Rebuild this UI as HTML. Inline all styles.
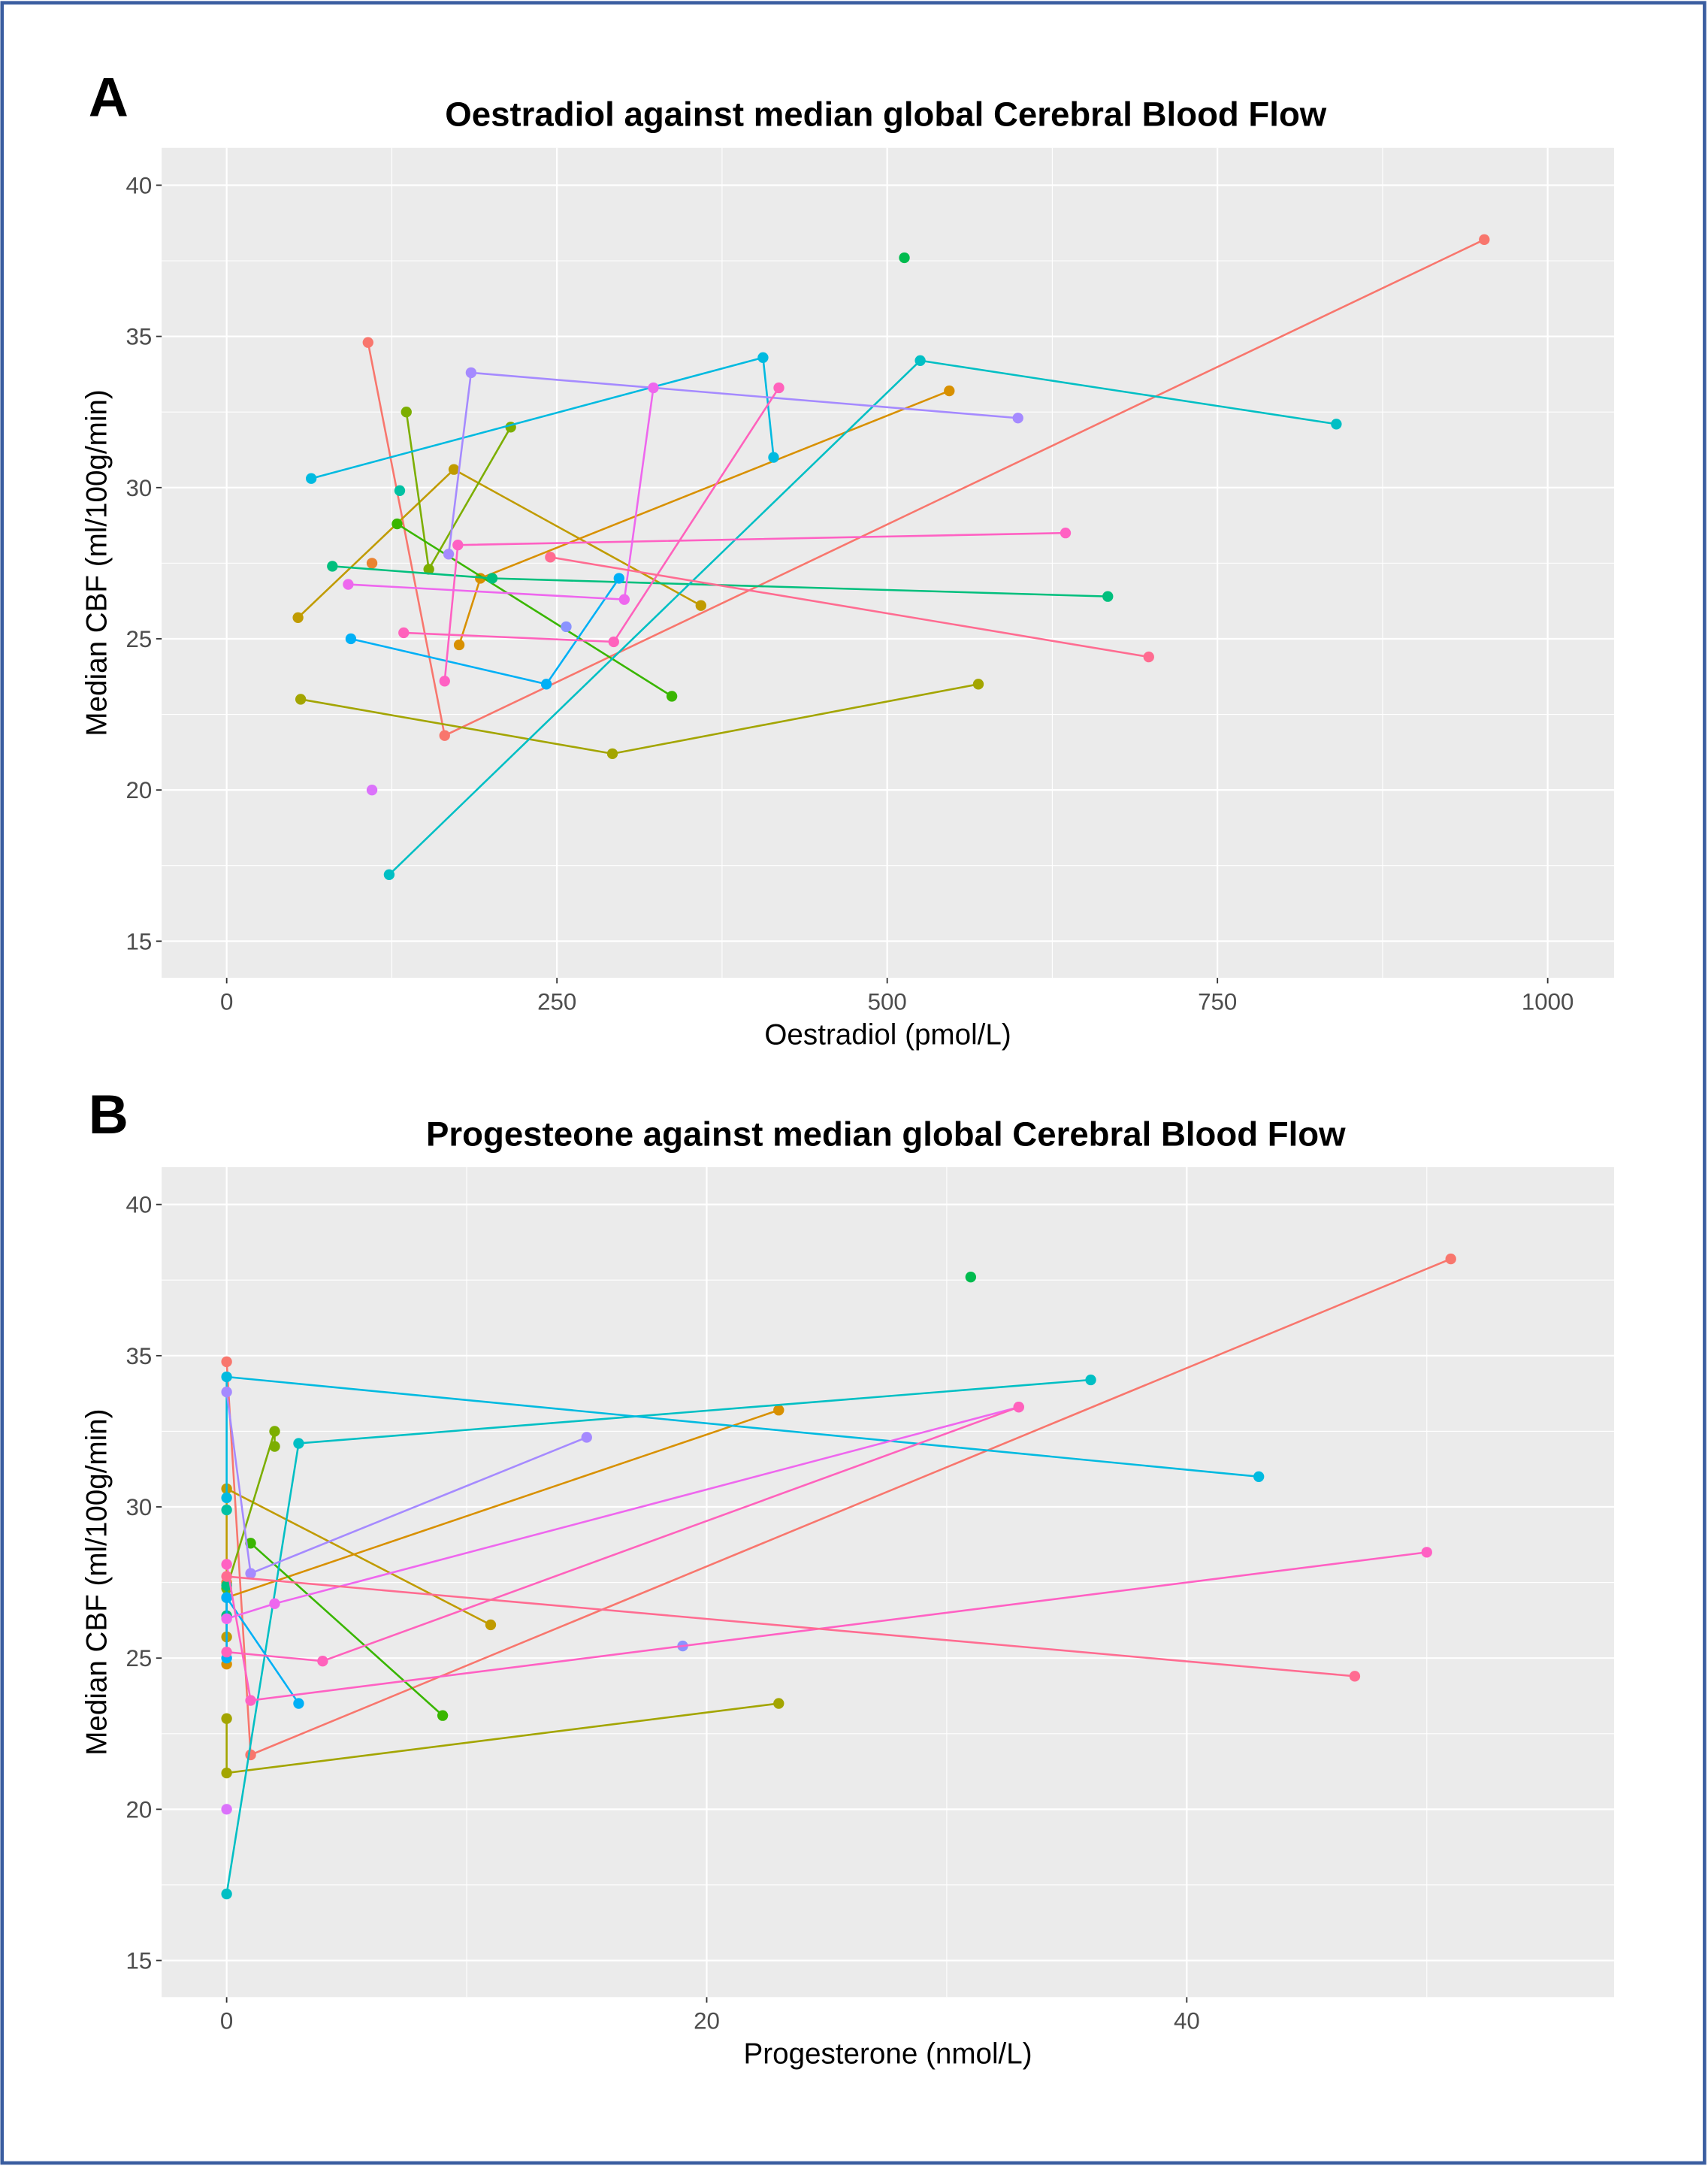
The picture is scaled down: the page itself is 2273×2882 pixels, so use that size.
<!DOCTYPE html>
<html><head><meta charset="utf-8">
<style>
html,body{margin:0;padding:0;background:#fff;}
svg{display:block;}
text{font-family:"Liberation Sans",Arial,sans-serif;}
</style></head>
<body>
<svg id="chart" width="2273" height="2882" viewBox="0 0 1236 1567.2" xmlns="http://www.w3.org/2000/svg">
<rect x="1.5" y="2" width="1232" height="1563" fill="#fff" stroke="#3A5DA0" stroke-width="2.5"/>
<text x="64" y="84" font-size="40" font-weight="bold">A</text>
<text x="64" y="820" font-size="40" font-weight="bold">B</text>
<text x="641" y="91" font-size="24.8" font-weight="bold" text-anchor="middle">Oestradiol against median global Cerebral Blood Flow</text>
<text x="641" y="829" font-size="24.8" font-weight="bold" text-anchor="middle">Progesteone against median global Cerebral Blood Flow</text>
<g id="panelA"></g>
<g id="panelB"></g>
</svg>
<script>
// Subjects: oestradiol (pmol/L), progesterone (nmol/L), median CBF
const subjectColors = ["#F8766D","#EA8331","#C09B00","#D89000","#A3A500","#7CAE00","#39B600","#00BF7D","#00BB4E","#00C1A3","#00BFC4","#00BAE0","#00B0F6","#8B93FF","#A58AFF","#DB72FB","#FF61C3","#EE67EE","#FF62BC","#FF6C91"];
const oestradiol = [[107,165,952],[110],[54,172,359],[176,192,547],[56,292,569],[136,153,215],[129,337],[80,201,667],[513],[131],[123,525,840],[64,406,414],[94,242,297],[257],[168,185,599],[110],[165,175,635],[92,301,323],[134,293,418],[245,698]];
const progesterone = [[0,1,51],[0],[0,0,11],[0,0,23],[0,0,23],[2,0,2],[1,9],[0,0,0],[31],[0],[0,36,3],[0,0,43],[0,3,0],[19],[1,0,15],[0],[1,0,50],[2,0,33],[0,4,33],[0,47]];
const cbf = [[34.8,21.8,38.2],[27.5],[25.7,30.6,26.1],[24.8,27.0,33.2],[23.0,21.2,23.5],[32.5,27.3,32.0],[28.8,23.1],[27.4,27.0,26.4],[37.6],[29.9],[17.2,34.2,32.1],[30.3,34.3,31.0],[25.0,23.5,27.0],[25.4],[27.8,33.8,32.3],[20.0],[23.6,28.1,28.5],[26.8,26.3,33.3],[25.2,24.9,33.3],[27.7,24.4]];
const yTicks = [15,20,25,30,35,40];
const xTicksA = [0,250,500,750,1000];
const xTicksB = [0,20,40];

const NS="http://www.w3.org/2000/svg";
function mk(tag,attrs,parent){const e=document.createElementNS(NS,tag);for(const k in attrs)e.setAttribute(k,attrs[k]);parent.appendChild(e);return e;}

function panel(g,top,xDomain,xTicks,xMinor,xVals,xTitle){
  const L=117,R=1168,T=top,B=top+600.5;
  const yS=v=>T+27+(40-v)*21.88;
  const xS=v=>L+(v-xDomain[0])*(R-L)/(xDomain[1]-xDomain[0]);
  const bg=mk('rect',{x:L,y:T,width:R-L,height:B-T,fill:'#EBEBEB'},g);
  
  
  for(const v of xMinor){const l=mk('line',{x1:xS(v),x2:xS(v),y1:T,y2:B,stroke:'#fff','stroke-width':0.6},g);
    
    }
  for(let v=17.5;v<40;v+=5){const l=mk('line',{x1:L,x2:R,y1:yS(v),y2:yS(v),stroke:'#fff','stroke-width':0.6},g);
    
    }
  for(const v of xTicks){const l=mk('line',{x1:xS(v),x2:xS(v),y1:T,y2:B,stroke:'#fff','stroke-width':1.2},g);
    
    
    const t=mk('line',{x1:xS(v),x2:xS(v),y1:B,y2:B+4,stroke:'#333','stroke-width':1},g);
    
    
    const tx=mk('text',{x:xS(v),y:B+23,'font-size':17,fill:'#4D4D4D','text-anchor':'middle'},g);tx.textContent=v;
    
    }
  for(const v of yTicks){const l=mk('line',{x1:L,x2:R,y1:yS(v),y2:yS(v),stroke:'#fff','stroke-width':1.2},g);
    
    
    const t=mk('line',{x1:L-4,x2:L,y1:yS(v),y2:yS(v),stroke:'#333','stroke-width':1},g);
    
    
    const tx=mk('text',{x:L-7,y:yS(v)+6,'font-size':17,fill:'#4D4D4D','text-anchor':'end'},g);tx.textContent=v;
    
    }
  const xt=mk('text',{x:(L+R)/2,y:B+48,'font-size':21,fill:'#000','text-anchor':'middle'},g);xt.textContent=xTitle;
  
  
  const cy=(T+B)/2;
  const yt=mk('text',{x:77,y:cy,'font-size':21,fill:'#000','text-anchor':'middle',transform:`rotate(-90 77 ${cy})`},g);yt.textContent='Median CBF (ml/100g/min)';
  
  
  for(let s=0;s<cbf.length;s++){
    const pts=xVals[s].map((x,i)=>[x,cbf[s][i]]).sort((a,b)=>a[0]-b[0]);
    const col=subjectColors[s];
    const sg=mk('g',{},g);
    
    
    if(pts.length>1){const pl=mk('polyline',{points:pts.map(p=>xS(p[0])+','+yS(p[1])).join(' '),fill:'none',stroke:col,'stroke-width':1.4},sg);
      
      }
    for(const p of pts){const c=mk('circle',{cx:xS(p[0]),cy:yS(p[1]),r:3.9,fill:col},sg);
      
      }
  }
}
panel(document.getElementById('panelA'),107,[-49.2,1050.2],xTicksA,[125,375,625,875],oestradiol,'Oestradiol (pmol/L)');
panel(document.getElementById('panelB'),844.5,[-2.706,57.8],xTicksB,[10,30,50],progesterone,'Progesterone (nmol/L)');
</script>
</body></html>
